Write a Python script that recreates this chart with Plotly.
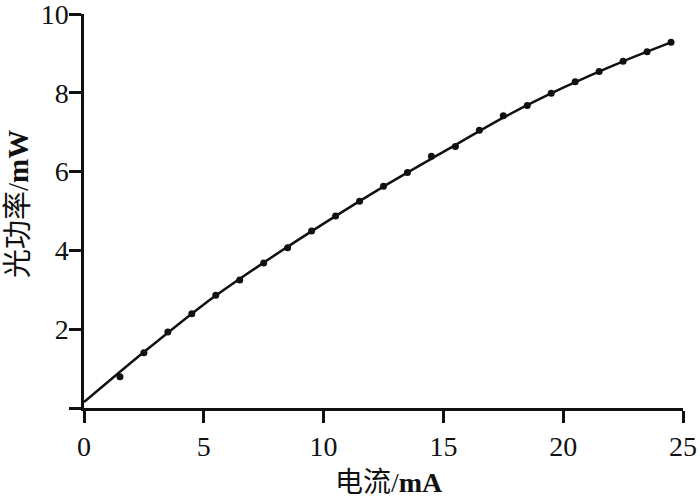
import plotly.graph_objects as go

# measured points
current_mA = [1.5, 2.5, 3.5, 4.5, 5.5, 6.5, 7.5, 8.5, 9.5, 10.5, 11.5, 12.5,
              13.5, 14.5, 15.5, 16.5, 17.5, 18.5, 19.5, 20.5, 21.5, 22.5, 23.5, 24.5]
power_mW = [0.79, 1.40, 1.93, 2.39, 2.86, 3.25, 3.68, 4.07, 4.49, 4.87, 5.25, 5.63,
            5.98, 6.39, 6.64, 7.05, 7.42, 7.68, 7.99, 8.28, 8.54, 8.80, 9.04, 9.28]

# fitted curve
fit_x = [0, 2.5, 5, 7.5, 10, 12.5, 15, 17.5, 20, 22.5, 24.5]
fit_y = [0.15, 1.42, 2.63, 3.69, 4.68, 5.62, 6.50, 7.37, 8.13, 8.80, 9.28]

x_ticks = [0, 5, 10, 15, 20, 25]
y_ticks = [0, 2, 4, 6, 8, 10]
y_ticktext = ["", "2", "4", "6", "8", "10"]
x_title = "电流/<b>mA</b>"
y_title = "光功率/<b>mW</b>"

FONT = "Liberation Serif, Noto Sans CJK SC, serif"

fig = go.Figure()
fig.add_trace(go.Scatter(x=fit_x, y=fit_y, mode="lines",
                         line=dict(color="#111111", width=2.5, shape="spline", smoothing=0.8),
                         showlegend=False, cliponaxis=False))
fig.add_trace(go.Scatter(x=current_mA, y=power_mW, mode="markers",
                         marker=dict(color="#111111", size=7, symbol="circle"),
                         showlegend=False, cliponaxis=False))

axis_common = dict(showgrid=False, zeroline=False, automargin=False,
                   showline=True, linecolor="#111111", linewidth=2.5,
                   ticks="outside", ticklen=12, tickwidth=2.5, tickcolor="#111111",
                   tickfont=dict(size=28), ticklabeloverflow="allow")

fig.update_layout(
    width=700, height=502,
    margin=dict(l=84, r=17, t=14, b=94, autoexpand=False),
    paper_bgcolor="white", plot_bgcolor="white",
    font=dict(family=FONT, size=28, color="#111111"),
    xaxis=dict(range=[0, 25], tickvals=x_ticks, **axis_common),
    yaxis=dict(range=[0, 10], tickvals=y_ticks, ticktext=y_ticktext,
               ticklabelstandoff=-5, **axis_common),
    annotations=[
        dict(text=x_title, xref="paper", yref="paper", x=0.509, y=-0.19,
             xanchor="center", yanchor="middle", showarrow=False,
             font=dict(size=28)),
        dict(text=y_title, xref="paper", yref="paper", x=-0.11, y=0.518,
             xanchor="center", yanchor="middle", showarrow=False, textangle=-90,
             font=dict(size=29)),
    ],
)

fig.write_html("out.html", config={"displayModeBar": False},
               post_script="document.body.style.margin='0';document.body.style.padding='0';")
